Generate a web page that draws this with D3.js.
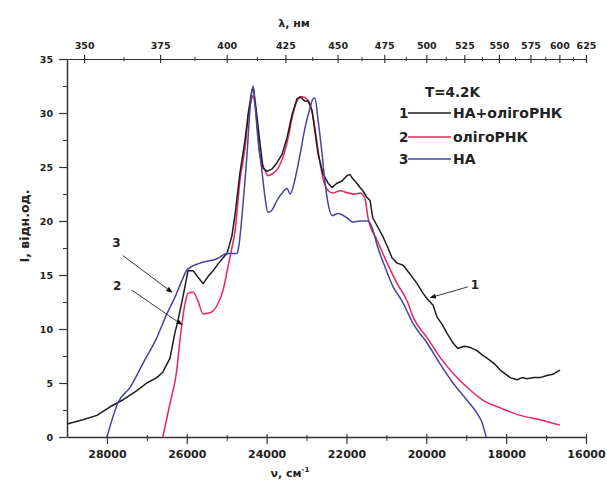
<!DOCTYPE html>
<html>
<head>
<meta charset="utf-8">
<script src="https://cdn.jsdelivr.net/npm/d3@7"></script>
<style>
    body { margin: 0; background: #fff; }
    text { font-family: "DejaVu Sans", sans-serif; font-weight: bold; fill: #222; }
</style>
</head>
<body>
<svg id="chart" width="607" height="481"></svg>
<script>

/*********** DONNEES ***********/

const bottomTicks = [28000, 26000, 24000, 22000, 20000, 18000, 16000]
const bottomMinor = [27000, 25000, 23000, 21000, 19000, 17000]
const topTicksNm = [350, 375, 400, 425, 450, 475, 500, 525, 550, 575, 600, 625]
const topMinorNm = [362.5, 387.5, 412.5, 437.5, 462.5, 487.5, 512.5, 537.5, 562.5, 587.5, 612.5]
const yTicks = [0, 5, 10, 15, 20, 25, 30, 35]
const yMinor = [2.5, 7.5, 12.5, 17.5, 22.5, 27.5, 32.5]

const seriesLabels = ["НА+олігоРНК", "олігоРНК", "НА"]

// 1 : НА+олігоРНК  [ν, I]
const curveMix = [
    [29000, 1.2], [28600, 1.6], [28250, 2.0], [27920, 2.8], [27620, 3.4], [27250, 4.3],
    [27000, 5.0], [26750, 5.5], [26600, 6.0], [26420, 7.3], [26300, 9.6], [26220, 10.8],
    [26100, 12.9], [26000, 14.8], [25970, 15.4], [25840, 15.4], [25720, 14.8], [25590, 14.2],
    [25460, 14.9], [25340, 15.4], [25200, 16.1], [25090, 16.6], [24990, 17.0], [24870, 18.6],
    [24790, 20.6], [24670, 24.4], [24540, 27.5], [24460, 30.0], [24370, 32.1], [24330, 32.3],
    [24270, 30.6], [24160, 27.0], [24090, 24.9], [23990, 24.6], [23870, 24.8], [23740, 25.4],
    [23610, 26.2], [23490, 27.7], [23360, 29.9], [23240, 31.3], [23160, 31.5], [23040, 31.1],
    [22960, 31.1], [22860, 30.2], [22790, 28.3], [22710, 26.2], [22590, 24.4], [22460, 23.5],
    [22360, 23.1], [22240, 23.5], [22110, 23.7], [21990, 24.2], [21910, 24.3], [21860, 24.0],
    [21790, 23.7], [21740, 23.5], [21660, 23.1], [21590, 22.8], [21490, 22.2], [21410, 21.9],
    [21340, 20.3], [21210, 19.4], [21080, 18.5], [20960, 17.5], [20860, 16.6], [20730, 16.1],
    [20580, 15.9], [20410, 15.1], [20230, 14.2], [20080, 13.3], [19980, 12.8], [19830, 12.2],
    [19730, 11.1], [19600, 10.4], [19480, 9.6], [19330, 8.7], [19210, 8.2], [19050, 8.4],
    [18910, 8.3], [18730, 8.0], [18600, 7.6], [18480, 7.3], [18300, 6.8], [18150, 6.2],
    [17900, 5.5], [17730, 5.3], [17600, 5.5], [17480, 5.4], [17300, 5.5], [17150, 5.5],
    [16980, 5.7], [16830, 5.8], [16700, 6.1], [16650, 6.2]
]

// 2 : олігоРНК
const curveOligo = [
    [26600, 0], [26420, 3.1], [26250, 6.2], [26170, 9.0], [26040, 12.4], [25970, 13.3],
    [25840, 13.4], [25720, 12.6], [25590, 11.4], [25420, 11.5], [25240, 12.2], [25090, 13.6],
    [24970, 15.7], [24870, 17.5], [24790, 19.1], [24670, 23.7], [24540, 26.8], [24470, 29.3],
    [24390, 31.1], [24350, 31.6], [24270, 30.2], [24170, 26.2], [24040, 24.7], [23970, 24.2],
    [23840, 24.4], [23710, 24.9], [23590, 25.9], [23460, 27.7], [23340, 29.9], [23210, 31.3],
    [23110, 31.5], [22990, 31.3], [22910, 30.8], [22790, 28.6], [22710, 26.5], [22590, 24.0],
    [22460, 22.8], [22340, 22.6], [22160, 22.8], [21960, 22.6], [21790, 22.5], [21660, 22.6],
    [21540, 22.1], [21460, 20.3], [21230, 18.2], [20980, 16.1], [20730, 14.2], [20480, 12.6],
    [20330, 11.1], [19980, 9.2], [19660, 7.4], [19330, 5.9], [18980, 4.6], [18580, 3.4],
    [18150, 2.7], [17650, 2.0], [17150, 1.6], [16650, 1.1]
]

// 3 : НА
const curveNA = [
    [28000, 0], [27720, 3.2], [27420, 4.6], [27100, 6.8], [26750, 9.2], [26500, 11.4],
    [26300, 12.9], [26120, 14.5], [25990, 15.5], [25670, 16.1], [25240, 16.5], [24990, 17.0],
    [24740, 17.0], [24700, 17.6], [24590, 21.6], [24490, 26.2], [24420, 30.2], [24340, 32.5],
    [24290, 30.8], [24220, 27.7], [24120, 24.7], [24040, 22.2], [23970, 20.8], [23870, 21.0],
    [23740, 21.9], [23610, 22.6], [23490, 23.0], [23410, 22.5], [23340, 23.1], [23240, 24.7],
    [23160, 26.2], [23040, 28.6], [22910, 30.5], [22840, 31.3], [22790, 31.4], [22710, 29.3],
    [22610, 26.2], [22540, 23.7], [22460, 21.6], [22360, 20.5], [22210, 20.7], [21990, 20.3],
    [21840, 19.9], [21660, 20.0], [21460, 20.0], [21360, 19.4], [21210, 17.5], [21030, 15.7],
    [20830, 13.9], [20610, 12.6], [20330, 10.5], [19980, 8.7], [19660, 6.8], [19330, 5.0],
    [18980, 3.4], [18730, 2.2], [18600, 1.3], [18530, 0.4], [18500, 0]
]

const seriesColors = ["#1c1c1c", "#e8265e", "#4444a8"]


/*********** GRAPHIQUE ***********/

const svg = d3.select("#chart")

const x = d3.scaleLinear().domain([29000, 16000]).range([67, 586])
const y = d3.scaleLinear().domain([0, 35]).range([437, 59])

function styleAxis(g, size) {
    g.attr("font-family", null).attr("font-size", size)
    g.select(".domain").attr("stroke", "#333").attr("stroke-width", 1.5)
    g.selectAll(".tick line").attr("stroke", "#333").attr("stroke-width", 1.2)
    g.selectAll(".tick text").attr("fill", "#222")
}

// axe du bas
const bottomAxis = svg.append("g")
    .attr("transform", "translate(0," + y(0) + ")")
    .call(d3.axisBottom(x).tickValues(bottomTicks).tickFormat(d3.format("d")).tickSizeInner(7).tickSizeOuter(0).tickPadding(6))
styleAxis(bottomAxis, 11)
bottomAxis.selectAll(".tick line").attr("y1", -3)

svg.append("g")
    .attr("transform", "translate(0," + y(0) + ")")
    .call(d3.axisBottom(x).tickValues(bottomMinor).tickFormat("").tickSizeInner(4).tickSizeOuter(0))
    .call(g => { g.select(".domain").remove(); g.selectAll("line").attr("stroke", "#333").attr("y1", -2) })

// axe du haut (longueur d'onde)
const topAxis = svg.append("g")
    .attr("transform", "translate(0," + y(35) + ")")
    .call(d3.axisTop(x).tickValues(topTicksNm.map(l => 1e7 / l))
        .tickFormat(v => Math.round(1e7 / v)).tickSizeInner(4).tickSizeOuter(0).tickPadding(6))
styleAxis(topAxis, 9.5)
topAxis.select(".domain").attr("stroke-width", 1.2)
topAxis.selectAll(".tick line").attr("y1", 4)

svg.append("g")
    .attr("transform", "translate(0," + y(35) + ")")
    .call(d3.axisTop(x).tickValues(topMinorNm.map(l => 1e7 / l)).tickFormat("").tickSizeInner(2).tickSizeOuter(0))
    .call(g => { g.select(".domain").remove(); g.selectAll("line").attr("stroke", "#333").attr("y1", 2) })

// axe de gauche
const leftAxis = svg.append("g")
    .attr("transform", "translate(" + x(29000) + ",0)")
    .call(d3.axisLeft(y).tickValues(yTicks).tickSizeInner(8).tickSizeOuter(0).tickPadding(6))
styleAxis(leftAxis, 9.5)

svg.append("g")
    .attr("transform", "translate(" + x(29000) + ",0)")
    .call(d3.axisLeft(y).tickValues(yMinor).tickFormat("").tickSizeInner(4).tickSizeOuter(0))
    .call(g => { g.select(".domain").remove(); g.selectAll("line").attr("stroke", "#333") })

// titres des axes
svg.append("text")
    .attr("x", 294).attr("y", 27)
    .attr("text-anchor", "middle").attr("font-size", 11)
    .text("λ, нм")

const xTitle = svg.append("text")
    .attr("x", 290).attr("y", 477)
    .attr("text-anchor", "middle").attr("font-size", 11)
xTitle.append("tspan").text("ν, см")
xTitle.append("tspan").attr("font-size", 7).attr("dy", -5).text("-1")

svg.append("text")
    .attr("transform", "translate(29,226) rotate(-90)")
    .attr("text-anchor", "middle").attr("font-size", 12.5)
    .text("I, відн.од.")

// courbes
const line = d3.line()
    .x(d => x(d[0]))
    .y(d => y(d[1]))

const curves = [curveMix, curveOligo, curveNA]

// ordre de dessin : rouge, noir, bleu
for (const i of [1, 0, 2]) {
    svg.append("path")
        .datum(curves[i])
        .attr("fill", "none")
        .attr("stroke", seriesColors[i])
        .attr("stroke-width", 1.5)
        .attr("stroke-linejoin", "round")
        .attr("d", line.curve(i == 0 ? d3.curveLinear : d3.curveMonotoneX))
}

// fleches
svg.append("defs").append("marker")
    .attr("id", "tip")
    .attr("viewBox", "0 0 10 10")
    .attr("refX", 9).attr("refY", 5)
    .attr("markerWidth", 7).attr("markerHeight", 7)
    .attr("orient", "auto")
    .append("path").attr("d", "M0,1 L10,5 L0,9 Z").attr("fill", "#111")

const arrows = [
    { label: "3", lx: 27760, ly: 17.6, from: [27600, 16.8], to: [26370, 13.4] },
    { label: "2", lx: 27740, ly: 13.6, from: [27380, 13.6], to: [26120, 10.4] },
    { label: "1", lx: 18780, ly: 13.7, from: [18960, 13.9], to: [19900, 12.9] }
]

for (const a of arrows) {
    svg.append("line")
        .attr("x1", x(a.from[0])).attr("y1", y(a.from[1]))
        .attr("x2", x(a.to[0])).attr("y2", y(a.to[1]))
        .attr("stroke", "#222").attr("stroke-width", 0.9)
        .attr("marker-end", "url(#tip)")
    svg.append("text")
        .attr("x", x(a.lx)).attr("y", y(a.ly))
        .attr("text-anchor", "middle").attr("font-size", 12)
        .text(a.label)
}

// legende
svg.append("text")
    .attr("x", 425).attr("y", 97)
    .attr("font-size", 13.5)
    .text("T=4.2K")

const legendY = [113, 137, 159]
seriesLabels.forEach((lab, i) => {
    svg.append("text")
        .attr("x", 399).attr("y", legendY[i] + 5)
        .attr("font-size", 13.5)
        .text(i + 1)
    svg.append("line")
        .attr("x1", 408).attr("x2", 451)
        .attr("y1", legendY[i]).attr("y2", legendY[i])
        .attr("stroke", seriesColors[i]).attr("stroke-width", 1.5)
    svg.append("text")
        .attr("x", 453).attr("y", legendY[i] + 5)
        .attr("font-size", 14)
        .text(lab)
})

</script>
</body>
</html>
